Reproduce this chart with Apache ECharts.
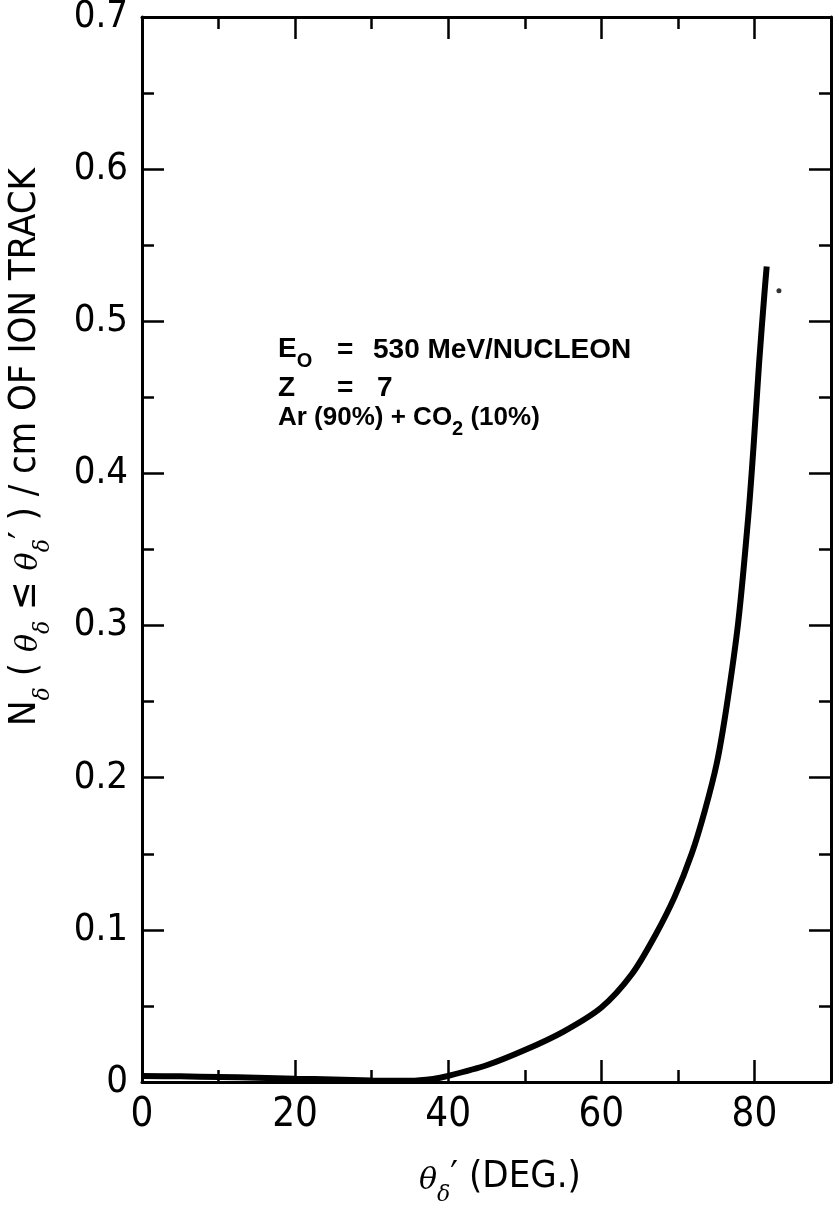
<!DOCTYPE html>
<html>
<head>
<meta charset="utf-8">
<script src="https://cdn.jsdelivr.net/npm/echarts@6/dist/echarts.min.js"></script>
<style>
html,body{margin:0;padding:0;background:#fff}
#chart{width:839px;height:1216px}
</style>
</head>
<body>
<div id="chart"></div>
<script>
// curve: theta' (deg) -> N_delta per cm
var angleDeg = [0, 5, 10, 15, 20, 25, 30, 35, 38, 40, 45, 50, 55, 60, 64, 67, 69.6, 71.8, 73.5, 75.1, 76.4, 77.9, 79.2, 79.9, 80.6, 81.3, 81.6];
var nDelta   = [0.004, 0.0037, 0.0033, 0.0028, 0.0022, 0.0016, 0.001, 0.0008, 0.002, 0.004, 0.011, 0.021, 0.033, 0.049, 0.071, 0.096, 0.122, 0.15, 0.178, 0.21, 0.248, 0.303, 0.372, 0.419, 0.472, 0.518, 0.536];
var strayDot = [[83.2, 0.52]];

var xMajor = [0, 20, 40, 60, 80];
var xMinor = [10, 30, 50, 70];

var narrow = '"Liberation Sans Narrow","DejaVu Sans Condensed",sans-serif';
var bold = '"Liberation Sans",Arial,sans-serif';

var curve = angleDeg.map(function (a, i) { return [a, nDelta[i]]; });

var chart = echarts.init(document.getElementById('chart'));

function xAx(grid, pos, ticks, len, labels) {
    return {
        type: 'value', gridIndex: grid, position: pos, min: 0, max: 90,
        axisLine: {show: grid === 0, onZero: false, lineStyle: {color: '#000', width: 3}},
        axisTick: {show: true, inside: true, length: len, customValues: ticks, lineStyle: {color: '#000', width: 2.5}},
        axisLabel: {show: labels, customValues: ticks, margin: 14, color: '#000', fontFamily: narrow, fontSize: 40},
        splitLine: {show: false}
    };
}
function yAx(grid, pos, labels) {
    return {
        type: 'value', gridIndex: grid, position: pos, min: 0, max: 0.7, interval: 0.1,
        show: grid === 0,
        axisLine: {show: true, onZero: false, lineStyle: {color: '#000', width: 3}},
        axisTick: {show: true, inside: true, length: 22, lineStyle: {color: '#000', width: 2.5}},
        minorTick: {show: true, splitNumber: 2, length: 12, lineStyle: {color: '#000', width: 2.5}},
        axisLabel: {
            show: labels, margin: 14, color: '#000', fontFamily: narrow, fontSize: 38,
            formatter: function (v) { return v === 0 ? '0' : v.toFixed(1); }
        },
        splitLine: {show: false}
    };
}

var gridBox = {left: 142, right: 8, top: 17, bottom: 134, containLabel: false, outerBoundsMode: 'none'};

var option = {
    backgroundColor: '#fff',
    animation: false,
    grid: [gridBox, gridBox],
    xAxis: [
        xAx(0, 'bottom', xMajor, 22, true),
        xAx(0, 'top', xMajor, 22, false),
        xAx(1, 'bottom', xMinor, 12, false),
        xAx(1, 'top', xMinor, 12, false)
    ],
    yAxis: [
        yAx(0, 'left', true),
        yAx(0, 'right', false),
        yAx(1, 'left', false)
    ],
    series: [
        {
            type: 'line', xAxisIndex: 0, yAxisIndex: 0,
            data: curve, smooth: 0.3,
            symbol: 'none', lineStyle: {color: '#000', width: 6}
        },
        {
            type: 'scatter', xAxisIndex: 0, yAxisIndex: 0,
            data: strayDot, symbolSize: 5, itemStyle: {color: '#000'}
        }
    ],
    graphic: [
        {
            type: 'text', x: 30, y: 447, rotation: Math.PI / 2,
            style: {
                text: '{n|N}{s|δ}{n| ( }{t|θ}{s|δ}{n| ≤ }{t|θ}{s|δ}{n|′ ) / cm OF ION TRACK}',
                align: 'center', verticalAlign: 'middle', fill: '#000',
                rich: {
                    n: {fontFamily: narrow, fontSize: 38, color: '#000', verticalAlign: 'bottom', padding: [0, 0, 10, 0]},
                    t: {fontFamily: 'DejaVu Serif', fontStyle: 'italic', fontSize: 30, color: '#000', verticalAlign: 'bottom', padding: [0, 0, 10, 0]},
                    s: {fontFamily: 'DejaVu Serif', fontStyle: 'italic', fontSize: 22, color: '#000', verticalAlign: 'bottom'}
                }
            }
        },
        {
            type: 'text', x: 500, y: 1182,
            style: {
                text: '{t|θ}{s|δ}{n|′ (DEG.)}',
                align: 'center', verticalAlign: 'middle', fill: '#000',
                rich: {
                    n: {fontFamily: narrow, fontSize: 38, color: '#000', verticalAlign: 'bottom', padding: [0, 0, 10, 0]},
                    t: {fontFamily: 'DejaVu Serif', fontStyle: 'italic', fontSize: 30, color: '#000', verticalAlign: 'bottom', padding: [0, 0, 10, 0]},
                    s: {fontFamily: 'DejaVu Serif', fontStyle: 'italic', fontSize: 22, color: '#000', verticalAlign: 'bottom'}
                }
            }
        },
        {
            type: 'text', x: 278, y: 353,
            style: {
                text: '{b|E}{s|O}', verticalAlign: 'middle', fill: '#000',
                rich: {
                    b: {fontFamily: bold, fontWeight: 'bold', fontSize: 28, color: '#000', verticalAlign: 'bottom', padding: [0, 0, 8, 0]},
                    s: {fontFamily: bold, fontWeight: 'bold', fontSize: 20, color: '#000', verticalAlign: 'bottom'}
                }
            }
        },
        {type: 'text', x: 337, y: 350, style: {text: '=', font: 'bold 28px ' + bold, fill: '#000', verticalAlign: 'middle'}},
        {type: 'text', x: 373, y: 350, style: {text: '530 MeV/NUCLEON', font: 'bold 28px ' + bold, fill: '#000', verticalAlign: 'middle'}},
        {type: 'text', x: 278, y: 388, style: {text: 'Z', font: 'bold 28px ' + bold, fill: '#000', verticalAlign: 'middle'}},
        {type: 'text', x: 337, y: 388, style: {text: '=', font: 'bold 28px ' + bold, fill: '#000', verticalAlign: 'middle'}},
        {type: 'text', x: 377, y: 388, style: {text: '7', font: 'bold 28px ' + bold, fill: '#000', verticalAlign: 'middle'}},
        {
            type: 'text', x: 278, y: 422,
            style: {
                text: '{b|Ar (90%) + CO}{s|2}{b| (10%)}', verticalAlign: 'middle', fill: '#000',
                rich: {
                    b: {fontFamily: bold, fontWeight: 'bold', fontSize: 26, color: '#000', verticalAlign: 'bottom', padding: [0, 0, 8, 0]},
                    s: {fontFamily: bold, fontWeight: 'bold', fontSize: 20, color: '#000', verticalAlign: 'bottom'}
                }
            }
        }
    ]
};

chart.setOption(option);
</script>
</body>
</html>
